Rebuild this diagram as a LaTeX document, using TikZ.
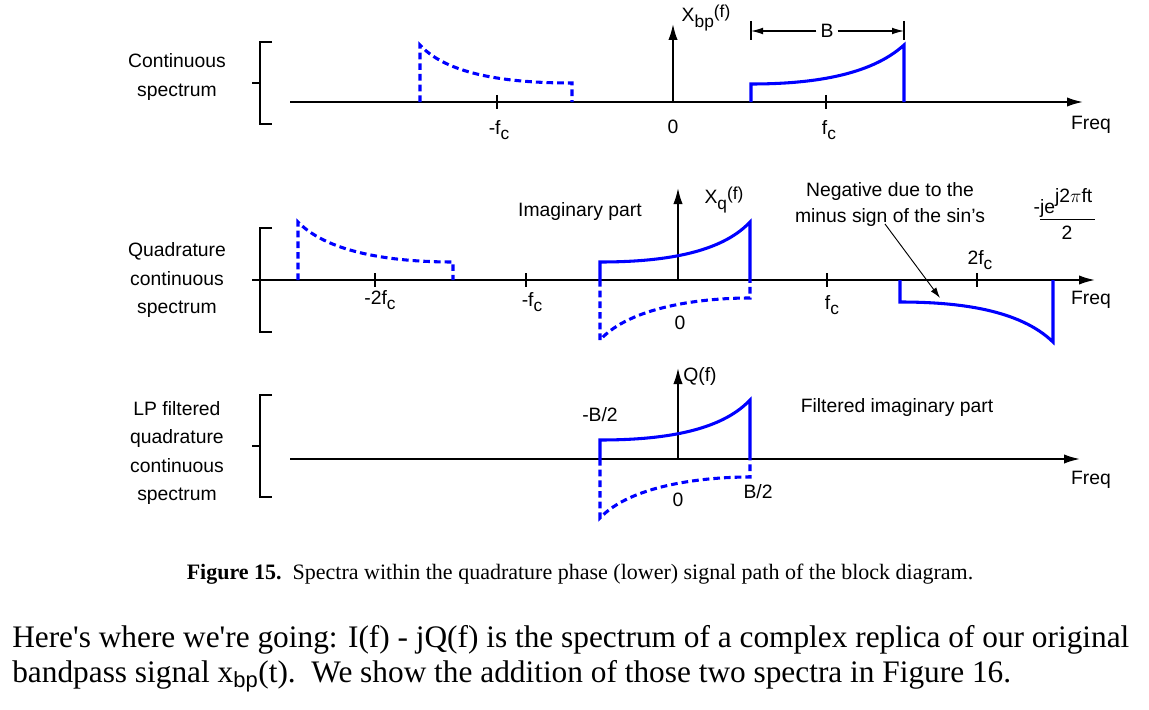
\documentclass[tikz,border=0pt]{standalone}
\usepackage{fontspec}
\setmainfont{Liberation Sans}
\newfontfamily\serif{Liberation Serif}
\usetikzlibrary{arrows.meta}
\newcommand{\sbx}[1]{\raisebox{-4pt}{\fontsize{13}{13}\selectfont #1}}
\begin{document}
\begin{tikzpicture}[x=0.75pt,y=-0.75pt,
  ax/.style={line width=1.3pt,-{Latex[length=12pt,width=7pt]}},
  sp/.style={blue,line width=2.3pt},
  ds/.style={sp,dash pattern=on 5pt off 3pt},
  tk/.style={line width=1.5pt},
  br/.style={line width=2pt},
  lb/.style={font=\fontsize{14.5}{15}\selectfont,inner sep=0pt},
  ll/.style={lb,align=center,font=\fontsize{14.5}{21.7}\selectfont}]
\useasboundingbox (0,0) rectangle (1149,710);
% panel 1
\coordinate (a1s) at (290,102); \coordinate (a1e) at (1083,102);
\draw[ax] (a1s) -- (a1e);
\coordinate (v1s) at (673,102); \coordinate (v1e) at (673,24);
\draw[ax] (v1s) -- (v1e);
\draw[br] (272,42) -- (260,42) -- (260,124) -- (272,124) (252,83) -- (260,83);
\node[ll] (c1) at (177,77) {Continuous\\spectrum};
\draw[tk] (497,95) -- (497,109) (826,95) -- (826,109);
\draw[ds] (420,102) -- (420,45) .. controls (450,78) and (520,83) .. (572,83) -- (572,102);
\draw[sp] (751,102) -- (751,84) .. controls (810,84) and (870,76) .. (904,45) -- (904,102);
\node[lb] (m1) at (499,130) {-f\sbx{c}};
\node[lb] (z1) at (673,127) {0};
\node[lb] (p1) at (829,130) {f\sbx{c}};
\node[lb] (f1) at (1091,125) {Freq};
\node[lb] (x1) at (706,18) {X\sbx{bp}\raisebox{3pt}{\fontsize{13}{13}\selectfont (f)}};
\draw[line width=0.8pt] (751,21) -- (751,40) (904,21) -- (904,40);
\coordinate (b1) at (751,31); \coordinate (b2) at (904,31);
\node[lb,fill=white,inner sep=3pt] (bl) at (827,31) {B};
\draw[line width=0.8pt,-{Latex[length=9pt,width=5pt]}] (bl) -- (b1);
\draw[line width=0.8pt,-{Latex[length=9pt,width=5pt]}] (bl) -- (b2);
% panel 2
\coordinate (a2s) at (260,280); \coordinate (a2e) at (1095,280);
\draw[ax] (a2s) -- (a2e);
\coordinate (v2s) at (678,280); \coordinate (v2e) at (678,188);
\draw[ax] (v2s) -- (v2e);
\draw[br] (272,228) -- (260,228) -- (260,332) -- (272,332) (252,280) -- (260,280);
\node[ll] (c2) at (177,280) {Quadrature\\continuous\\spectrum};
\draw[tk] (375,273) -- (375,287) (526,273) -- (526,287) (827,273) -- (827,287) (977,273) -- (977,287);
\draw[ds] (298,280) -- (298,222) .. controls (330,255) and (400,262) .. (453,262) -- (453,280);
\draw[sp] (600,280) -- (600,262) .. controls (660,262) and (720,254) .. (750,222) -- (750,280);
\draw[ds] (600,280) -- (600,340) .. controls (630,307) and (700,298) .. (750,298) -- (750,280);
\draw[sp] (900,280) -- (900,302) .. controls (960,302) and (1020,310) .. (1053,342) -- (1053,280);
\node[lb] (t2) at (580,211) {Imaginary part};
\node[lb] (x2) at (724,200) {X\sbx{q}\raisebox{3pt}{\fontsize{13}{13}\selectfont (f)}};
\node[ll,font=\fontsize{14.5}{19.5}\selectfont] (n2) at (890,204) {Negative due to the\\minus sign of the sin's};
\coordinate (n2t) at (940,298);
\draw[line width=0.7pt,-{Latex[length=8pt,width=5pt]}] (885,224) -- (n2t);
\node[lb] (fr) at (1063,203) {-je\raisebox{9pt}{j2$\pi$ft}};
\draw[line width=0.7pt] (1040,219) -- (1095,219);
\node[lb] (fr2) at (1067,233) {2};
\node[lb] (m22) at (380,300) {-2f\sbx{c}};
\node[lb] (m2) at (532,302) {-f\sbx{c}};
\node[lb] (z2) at (680,323) {0};
\node[lb] (p2) at (832,305) {f\sbx{c}};
\node[lb] (p22) at (980,260) {2f\sbx{c}};
\node[lb] (f2) at (1091,300) {Freq};
% panel 3
\coordinate (a3s) at (290,459); \coordinate (a3e) at (1080,459);
\draw[ax] (a3s) -- (a3e);
\coordinate (v3s) at (678,459); \coordinate (v3e) at (678,368);
\draw[ax] (v3s) -- (v3e);
\draw[br] (272,395) -- (260,395) -- (260,497) -- (272,497) (252,446) -- (260,446);
\node[ll,font=\fontsize{14.5}{21.4}\selectfont] (c3) at (177,453) {LP filtered\\quadrature\\continuous\\spectrum};
\draw[sp] (600,459) -- (600,440) .. controls (660,440) and (720,432) .. (750,400) -- (750,459);
\draw[ds] (600,459) -- (600,518) .. controls (630,486) and (700,477) .. (750,477) -- (750,459);
\node[lb] (bm) at (600,415) {-B/2};
\node[lb] (q3) at (700,376) {Q(f)};
\node[lb] (t3) at (897,407) {Filtered imaginary part};
\node[lb] (z3) at (678,500) {0};
\node[lb] (bp) at (758,492) {B/2};
\node[lb] (f3) at (1091,480) {Freq};
% caption and text
\node[inner sep=0pt,font=\serif\fontsize{16.5}{19}\selectfont] (cap) at (580,574) {\textbf{Figure 15.}\ \ Spectra within the quadrature phase (lower) signal path of the block diagram.};
\node[inner sep=0pt,anchor=west,align=left,font=\serif\fontsize{23.5}{26.5}\selectfont] (par) at (12,659) {Here's where we're going: I(f) - jQ(f) is the spectrum of a complex replica of our original\\bandpass signal x$_{\mathrm{bp}}$(t).\ \ We show the addition of those two spectra in Figure 16.};
\end{tikzpicture}
\end{document}
